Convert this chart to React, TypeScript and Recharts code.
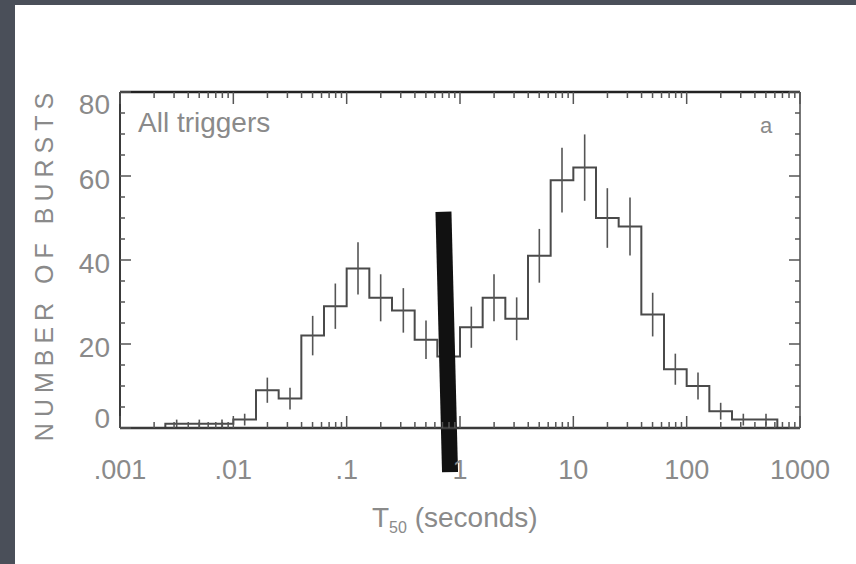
import React from 'react';
import {
  ComposedChart,
  Line,
  Scatter,
  ErrorBar,
  XAxis,
  YAxis,
  ReferenceLine,
} from 'recharts';

// log10(T50 / s) of each bin's left edge (bins are 0.2 dex wide)
const BIN_LEFT_EDGES = [
  -3.0, -2.8, -2.6, -2.4, -2.2, -2.0, -1.8, -1.6, -1.4, -1.2,
  -1.0, -0.8, -0.6, -0.4, -0.2, 0.0, 0.2, 0.4, 0.6, 0.8,
  1.0, 1.2, 1.4, 1.6, 1.8, 2.0, 2.2, 2.4, 2.6, 2.8,
];
const BIN_WIDTH = 0.2;
// number of bursts per bin
const BURST_COUNTS = [
  0, 0, 1, 1, 1, 2, 9, 7, 22, 29,
  38, 31, 28, 21, 17, 24, 31, 26, 41, 59,
  62, 50, 48, 27, 14, 10, 4, 2, 2, 0,
];
// half-length of each error bar
const COUNT_ERRORS = [
  0, 0, 1, 1, 1, 1.4, 3, 2.6, 4.7, 5.4,
  6.2, 5.6, 5.3, 4.6, 4.1, 4.9, 5.6, 5.1, 6.4, 7.7,
  7.9, 7.1, 6.9, 5.2, 3.7, 3.2, 2, 1.4, 1.4, 0,
];

const X_DECADES = [-3, -2, -1, 0, 1, 2, 3];
const X_TICK_LABELS = ['.001', '.01', '.1', '1', '10', '100', '1000'];
const MINOR_MULTIPLIERS = [2, 3, 4, 5, 6, 7, 8, 9];
const Y_TICKS = [0, 5, 10, 15, 20, 25, 30, 35, 40, 45, 50, 55, 60, 65, 70, 75, 80];
const Y_MAJOR = [0, 20, 40, 60, 80];

// hand-drawn marker on the slide (x in log10 seconds, y in counts)
const MARKER_SEGMENT = [
  { x: -0.146, y: 51.5 },
  { x: -0.088, y: -10.5 },
];

const X_TICKS: number[] = [];
X_DECADES.forEach((d) => {
  X_TICKS.push(d);
  if (d < 3) MINOR_MULTIPLIERS.forEach((m) => X_TICKS.push(d + Math.log10(m)));
});

const stepData = BIN_LEFT_EDGES.map((e, i) => ({ x: e, y: BURST_COUNTS[i] }));
stepData.push({
  x: BIN_LEFT_EDGES[BIN_LEFT_EDGES.length - 1] + BIN_WIDTH,
  y: BURST_COUNTS[BURST_COUNTS.length - 1],
});
const errData = BIN_LEFT_EDGES.map((e, i) => ({
  x: e + BIN_WIDTH / 2,
  y: BURST_COUNTS[i],
  err: COUNT_ERRORS[i],
})).filter((d) => d.y > 0);

const FONT = '"Liberation Sans", Arial, sans-serif';
const TEXT = '#8a8a8a';
const AXIS = '#3a3a3a';
const TICK = '#555';

const isMajorX = (v: number) => Math.abs(v - Math.round(v)) < 1e-6;

const XTickBottom = (props: any) => {
  const { x, y, payload } = props;
  const v = payload.value;
  const major = isMajorX(v);
  const idx = X_DECADES.indexOf(Math.round(v));
  return (
    <g>
      <line x1={x} y1={y} x2={x} y2={y - (major ? 12 : 6)} stroke={TICK} strokeWidth={1.5} />
      {major && (
        <text x={x} y={y + 51} textAnchor="middle" fontSize={27} fill={TEXT} fontFamily={FONT}>
          {X_TICK_LABELS[idx]}
        </text>
      )}
    </g>
  );
};

const XTickTop = (props: any) => {
  const { x, y, payload } = props;
  const major = isMajorX(payload.value);
  return <line x1={x} y1={y} x2={x} y2={y + (major ? 12 : 6)} stroke={TICK} strokeWidth={1.5} />;
};

const labelNudge = (v: number) => (v === 80 ? 22 : v === 0 ? 0 : 13);

const YTickLeft = (props: any) => {
  const { x, y, payload } = props;
  const v = payload.value;
  const major = Y_MAJOR.includes(v);
  return (
    <g>
      <line x1={x} y1={y} x2={x + (major ? 11 : 5)} y2={y} stroke={TICK} strokeWidth={1.5} />
      {major && (
        <text x={x - 10} y={y + labelNudge(v)} textAnchor="end" fontSize={28} fill={TEXT} fontFamily={FONT}>
          {v}
        </text>
      )}
    </g>
  );
};

const YTickRight = (props: any) => {
  const { x, y, payload } = props;
  const major = Y_MAJOR.includes(payload.value);
  return <line x1={x} y1={y} x2={x - (major ? 11 : 5)} y2={y} stroke={TICK} strokeWidth={1.5} />;
};

export default function App() {
  return (
    <div
      style={{
        position: 'fixed',
        left: 0,
        top: 0,
        width: 856,
        height: 564,
        background: '#4a4f59',
        overflow: 'hidden',
      }}
    >
      <div
        style={{
          position: 'absolute',
          left: 15,
          top: 5,
          width: 841,
          height: 559,
          background: '#ffffff',
        }}
      />
      <div style={{ position: 'absolute', left: 0, top: 0 }}>
        <ComposedChart
          width={856}
          height={564}
          margin={{ top: 91, right: 55, bottom: 135, left: 119 }}
        >
          <XAxis
            xAxisId="b"
            dataKey="x"
            type="number"
            domain={[-3, 3]}
            ticks={X_TICKS}
            interval={0}
            allowDataOverflow
            height={1}
            tickSize={0}
            tickMargin={0}
            tickLine={false}
            axisLine={{ stroke: AXIS, strokeWidth: 2.5 }}
            tick={<XTickBottom />}
          />
          <XAxis
            xAxisId="t"
            orientation="top"
            dataKey="x"
            type="number"
            domain={[-3, 3]}
            ticks={X_TICKS}
            interval={0}
            allowDataOverflow
            height={1}
            tickSize={0}
            tickMargin={0}
            tickLine={false}
            axisLine={{ stroke: '#222', strokeWidth: 2.5 }}
            tick={<XTickTop />}
          />
          <YAxis
            yAxisId="l"
            type="number"
            domain={[0, 80]}
            ticks={Y_TICKS}
            interval={0}
            allowDataOverflow
            width={1}
            tickSize={0}
            tickMargin={0}
            tickLine={false}
            axisLine={{ stroke: AXIS, strokeWidth: 2 }}
            tick={<YTickLeft />}
          />
          <YAxis
            yAxisId="r"
            orientation="right"
            type="number"
            domain={[0, 80]}
            ticks={Y_TICKS}
            interval={0}
            allowDataOverflow
            width={1}
            tickSize={0}
            tickMargin={0}
            tickLine={false}
            axisLine={{ stroke: '#777', strokeWidth: 2 }}
            tick={<YTickRight />}
          />
          <Line
            xAxisId="b"
            yAxisId="l"
            data={stepData}
            dataKey="y"
            type="stepAfter"
            stroke="#4a4a4a"
            strokeWidth={2}
            dot={false}
            isAnimationActive={false}
          />
          <Scatter
            xAxisId="b"
            yAxisId="l"
            data={errData}
            dataKey="y"
            shape={() => <g />}
            isAnimationActive={false}
          >
            <ErrorBar dataKey="err" direction="y" width={0} stroke="#555" strokeWidth={1.6} />
          </Scatter>
          <ReferenceLine
            xAxisId="b"
            yAxisId="l"
            segment={MARKER_SEGMENT}
            stroke="#111"
            strokeWidth={16}
            ifOverflow="visible"
          />
        </ComposedChart>
      </div>
      <div
        style={{
          position: 'absolute',
          left: 0,
          top: 0,
          width: 856,
          height: 564,
          pointerEvents: 'none',
        }}
      >
        <svg width={856} height={564}>
          <text
            x={0}
            y={0}
            transform="translate(53,264) rotate(-90)"
            textAnchor="middle"
            fontSize={25}
            letterSpacing={6}
            fill={TEXT}
            fontFamily={FONT}
          >
            NUMBER OF BURSTS
          </text>
          <text x={138} y={132} fontSize={28} fill={TEXT} fontFamily={FONT}>
            All triggers
          </text>
          <text x={760} y={133} fontSize={22} fill={TEXT} fontFamily={FONT}>
            a
          </text>
          <text x={372} y={527} fontSize={28} fill={TEXT} fontFamily={FONT}>
            T
            <tspan fontSize={16} dy={6}>50</tspan>
            <tspan dy={-6}> (seconds)</tspan>
          </text>
        </svg>
      </div>
    </div>
  );
}
